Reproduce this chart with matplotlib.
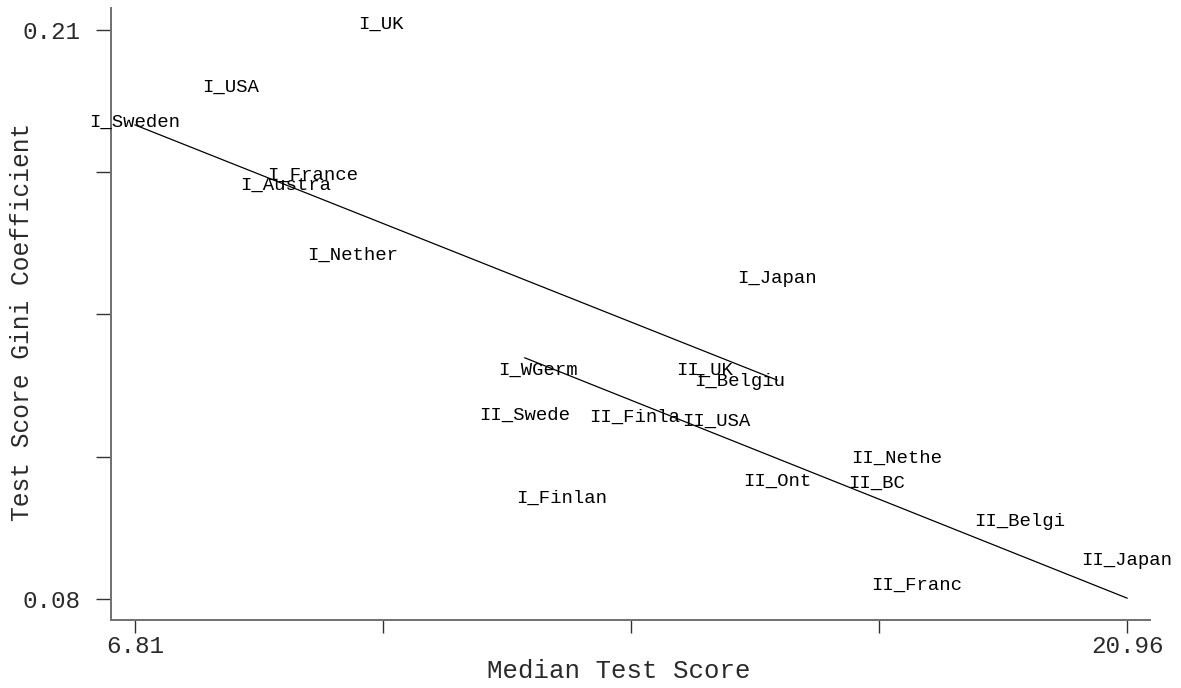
import matplotlib
matplotlib.use("Agg")
import matplotlib.pyplot as plt
import numpy as np

# ---- data ----
labels = ["I_UK", "I_USA", "I_Sweden", "I_France", "I_Austra", "I_Nether",
          "I_Japan", "I_WGerm", "I_Belgiu", "I_Finlan",
          "II_UK", "II_Swede", "II_Finla", "II_USA", "II_Ont", "II_Nethe",
          "II_BC", "II_Belgi", "II_Japan", "II_Franc"]
median_score = [10.32, 8.18, 6.81, 9.34, 8.96, 9.92,
                15.97, 12.56, 15.44, 12.90,
                14.93, 12.37, 13.94, 15.10, 15.97, 17.68,
                17.39, 19.43, 20.96, 17.96]
gini = [0.2112, 0.1968, 0.1890, 0.1767, 0.1744, 0.1586,
        0.1533, 0.1323, 0.1298, 0.1029,
        0.1323, 0.1220, 0.1214, 0.1207, 0.1070, 0.1122,
        0.1065, 0.0978, 0.0887, 0.0832]

# fitted lines per wave (x range, fitted values)
fit_I_x = [6.81, 15.97]
fit_I_y = [0.1883, 0.1300]
fit_II_x = [12.37, 20.96]
fit_II_y = [0.1351, 0.0802]

x_ticks = [6.81, 10.3475, 13.885, 17.4225, 20.96]
x_ticklabels = ["6.81", "", "", "", "20.96"]
y_ticks = [0.08, 0.1125, 0.145, 0.1775, 0.21]
y_ticklabels = ["0.08", "", "", "", "0.21"]

FONT = "Liberation Mono"

fig = plt.figure(figsize=(11.81, 6.88), dpi=100)
ax = fig.add_axes([0.094, 0.0988, 0.8798, 0.8895])

for lab, xv, yv in zip(labels, median_score, gini):
    ax.text(xv, yv, lab, ha="center", va="center", fontsize=13.7,
            family=FONT, color="black")

ax.plot(fit_I_x, fit_I_y, color="black", lw=0.9)
ax.plot(fit_II_x, fit_II_y, color="black", lw=0.9)

ax.set_xlim(6.468, 21.288)
ax.set_ylim(0.0752, 0.2150)

ax.set_xticks(x_ticks)
ax.set_xticklabels(x_ticklabels)
ax.set_yticks(y_ticks)
ax.set_yticklabels(y_ticklabels)

for sp in ["top", "right"]:
    ax.spines[sp].set_visible(False)
for sp in ["left", "bottom"]:
    ax.spines[sp].set_color("#707070")
    ax.spines[sp].set_linewidth(1.4)

ax.tick_params(axis="x", length=9.5, width=1.0, color="#333333", pad=1,
               labelsize=17.5, labelcolor="#2a2a2a")
ax.tick_params(axis="y", length=11, width=1.0, color="#333333", pad=11,
               labelsize=17.5, labelcolor="#2a2a2a")
for t in ax.get_xticklabels() + ax.get_yticklabels():
    t.set_family(FONT)

ax.set_xlabel("Median Test Score", fontsize=18.5, family=FONT, color="#2a2a2a")
ax.set_ylabel("Test Score Gini Coefficient", fontsize=17.7, family=FONT,
              color="#2a2a2a")
ax.xaxis.label.set_va("center")
ax.yaxis.label.set_va("center")
ax.xaxis.set_label_coords(0.489, -0.0833)
ax.yaxis.set_label_coords(-0.0857, 0.487)

fig.savefig("out.png", dpi=100)
